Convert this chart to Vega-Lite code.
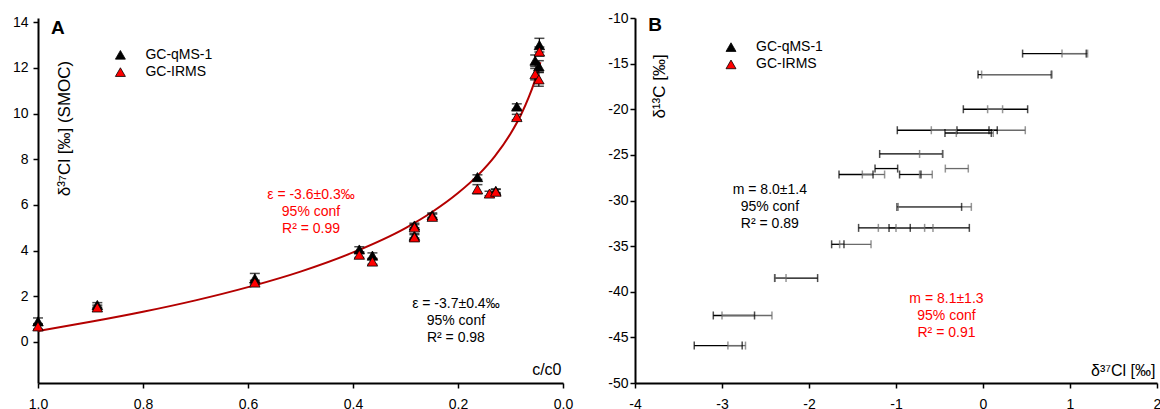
{
  "$schema": "https://vega.github.io/schema/vega-lite/v6.json",
  "padding": {"left": 12, "top": 11, "right": 0, "bottom": 0},
  "config": {
    "font": "Liberation Sans",
    "view": {"stroke": null},
    "axis": {"domainColor": "black", "domainWidth": 2, "tickColor": "black", "tickWidth": 1.5, "tickSize": 5, "labelFont": "Liberation Sans", "labelFontSize": 14, "labelColor": "black", "grid": false, "titleFont": "Liberation Sans", "titleFontWeight": "normal", "titleColor": "black", "labelFlush": false, "labelOverlap": false},
    "legend": {"labelFont": "Liberation Sans", "labelFontSize": 14, "labelColor": "black"}
  },
  "datasets": {
    "curveA": [
      {"c": 1.0, "d": 0.48}, {"c": 0.9, "d": 0.88}, {"c": 0.8, "d": 1.32}, {"c": 0.7, "d": 1.82},
      {"c": 0.6, "d": 2.4}, {"c": 0.5, "d": 3.08}, {"c": 0.4, "d": 3.92}, {"c": 0.3, "d": 4.99},
      {"c": 0.25, "d": 5.68}, {"c": 0.2, "d": 6.52}, {"c": 0.16, "d": 7.35}, {"c": 0.13, "d": 8.13},
      {"c": 0.1, "d": 9.12}, {"c": 0.08, "d": 9.95}, {"c": 0.065, "d": 10.73}, {"c": 0.055, "d": 11.35},
      {"c": 0.045, "d": 12.1}, {"c": 0.043, "d": 12.25}
    ],
    "ptsA": [
      {"series": "GC-qMS-1", "c": 1.0, "d": 0.9, "lo": 0.75, "hi": 1.05},
      {"series": "GC-qMS-1", "c": 0.887, "d": 1.62, "lo": 1.52, "hi": 1.72},
      {"series": "GC-qMS-1", "c": 0.587, "d": 2.78, "lo": 2.56, "hi": 3.0},
      {"series": "GC-qMS-1", "c": 0.388, "d": 4.05, "lo": 3.93, "hi": 4.17},
      {"series": "GC-qMS-1", "c": 0.363, "d": 3.78, "lo": 3.66, "hi": 3.9},
      {"series": "GC-qMS-1", "c": 0.283, "d": 5.1, "lo": 5.0, "hi": 5.2},
      {"series": "GC-qMS-1", "c": 0.283, "d": 4.65, "lo": 4.55, "hi": 4.75},
      {"series": "GC-qMS-1", "c": 0.249, "d": 5.55, "lo": 5.45, "hi": 5.65},
      {"series": "GC-qMS-1", "c": 0.163, "d": 7.22, "lo": 7.12, "hi": 7.32},
      {"series": "GC-qMS-1", "c": 0.128, "d": 6.62, "lo": 6.54, "hi": 6.7},
      {"series": "GC-qMS-1", "c": 0.088, "d": 10.31, "lo": 10.19, "hi": 10.43},
      {"series": "GC-qMS-1", "c": 0.045, "d": 13.0, "lo": 12.7, "hi": 13.3},
      {"series": "GC-qMS-1", "c": 0.053, "d": 12.32, "lo": 12.07, "hi": 12.57},
      {"series": "GC-qMS-1", "c": 0.046, "d": 12.07, "lo": 11.82, "hi": 12.32},
      {"series": "GC-IRMS", "c": 1.0, "d": 0.68, "lo": 0.56, "hi": 0.8},
      {"series": "GC-IRMS", "c": 0.887, "d": 1.51, "lo": 1.41, "hi": 1.61},
      {"series": "GC-IRMS", "c": 0.587, "d": 2.6, "lo": 2.5, "hi": 2.7},
      {"series": "GC-IRMS", "c": 0.388, "d": 3.82, "lo": 3.7, "hi": 3.94},
      {"series": "GC-IRMS", "c": 0.363, "d": 3.52, "lo": 3.4, "hi": 3.64},
      {"series": "GC-IRMS", "c": 0.283, "d": 5.02, "lo": 4.9, "hi": 5.14},
      {"series": "GC-IRMS", "c": 0.283, "d": 4.58, "lo": 4.46, "hi": 4.7},
      {"series": "GC-IRMS", "c": 0.249, "d": 5.48, "lo": 5.36, "hi": 5.6},
      {"series": "GC-IRMS", "c": 0.163, "d": 6.69, "lo": 6.49, "hi": 6.89},
      {"series": "GC-IRMS", "c": 0.14, "d": 6.5, "lo": 6.4, "hi": 6.6},
      {"series": "GC-IRMS", "c": 0.128, "d": 6.58, "lo": 6.48, "hi": 6.68},
      {"series": "GC-IRMS", "c": 0.088, "d": 9.85, "lo": 9.73, "hi": 9.97},
      {"series": "GC-IRMS", "c": 0.045, "d": 12.72, "lo": 12.52, "hi": 12.92},
      {"series": "GC-IRMS", "c": 0.053, "d": 11.73, "lo": 11.48, "hi": 11.98},
      {"series": "GC-IRMS", "c": 0.046, "d": 11.5, "lo": 11.2, "hi": 11.8}
    ],
    "ptsB": [
      {"series": "GC-qMS-1", "y": -13.9, "lo": 0.455, "hi": 1.187},
      {"series": "GC-IRMS", "y": -13.9, "lo": 0.908, "hi": 1.202},
      {"series": "GC-qMS-1", "y": -16.2, "lo": -0.057, "hi": 0.785},
      {"series": "GC-IRMS", "y": -16.2, "lo": -0.016, "hi": 0.793},
      {"series": "GC-qMS-1", "y": -20.0, "lo": -0.226, "hi": 0.513},
      {"series": "GC-IRMS", "y": -20.0, "lo": 0.053, "hi": 0.225},
      {"series": "GC-qMS-1", "y": -22.3, "lo": -0.985, "hi": 0.069},
      {"series": "GC-IRMS", "y": -22.3, "lo": -0.594, "hi": 0.486},
      {"series": "GC-qMS-1", "y": -22.3, "lo": -0.299, "hi": 0.164},
      {"series": "GC-qMS-1", "y": -22.6, "lo": -0.437, "hi": 0.095},
      {"series": "GC-IRMS", "y": -22.6, "lo": -0.307, "hi": 0.118},
      {"series": "GC-qMS-1", "y": -24.9, "lo": -1.188, "hi": -0.464},
      {"series": "GC-IRMS", "y": -24.9, "lo": -0.729, "hi": -0.464},
      {"series": "GC-qMS-1", "y": -26.5, "lo": -1.241, "hi": -0.981},
      {"series": "GC-IRMS", "y": -26.5, "lo": -0.433, "hi": -0.169},
      {"series": "GC-qMS-1", "y": -27.15, "lo": -1.655, "hi": -1.264},
      {"series": "GC-IRMS", "y": -27.15, "lo": -1.387, "hi": -1.131},
      {"series": "GC-qMS-1", "y": -27.15, "lo": -0.959, "hi": -0.713},
      {"series": "GC-IRMS", "y": -27.15, "lo": -0.729, "hi": -0.583},
      {"series": "GC-qMS-1", "y": -30.7, "lo": -0.989, "hi": -0.246},
      {"series": "GC-IRMS", "y": -30.7, "lo": -0.974, "hi": -0.134},
      {"series": "GC-qMS-1", "y": -33.0, "lo": -1.43, "hi": -0.836},
      {"series": "GC-IRMS", "y": -33.0, "lo": -1.203, "hi": -0.575},
      {"series": "GC-qMS-1", "y": -33.0, "lo": -1.08, "hi": -0.157},
      {"series": "GC-IRMS", "y": -33.0, "lo": -1.0, "hi": -0.671},
      {"series": "GC-qMS-1", "y": -34.8, "lo": -1.74, "hi": -1.598},
      {"series": "GC-IRMS", "y": -34.8, "lo": -1.648, "hi": -1.287},
      {"series": "GC-qMS-1", "y": -38.5, "lo": -2.395, "hi": -1.901},
      {"series": "GC-IRMS", "y": -38.5, "lo": -2.39, "hi": -2.264},
      {"series": "GC-qMS-1", "y": -42.6, "lo": -3.1, "hi": -2.626},
      {"series": "GC-IRMS", "y": -42.6, "lo": -3.0, "hi": -2.426},
      {"series": "GC-qMS-1", "y": -45.9, "lo": -3.319, "hi": -2.768},
      {"series": "GC-IRMS", "y": -45.9, "lo": -2.932, "hi": -2.73}
    ]
  },
  "spacing": 34,
  "resolve": {"scale": {"color": "independent", "fill": "independent"}, "legend": {"color": "independent", "fill": "independent"}},
  "hconcat": [
    {
      "width": 525,
      "height": 365,
      "layer": [
        {
          "data": {"name": "curveA"},
          "mark": {"type": "line", "color": "#b40000", "strokeWidth": 2, "interpolate": "monotone"},
          "encoding": {
            "x": {"field": "c", "type": "quantitative", "scale": {"domain": [0, 1], "reverse": true},
              "axis": {"values": [0, 0.2, 0.4, 0.6, 0.8, 1], "format": ".1f", "labelPadding": 9, "title": "c/c0", "titleFontSize": 16, "titleX": 523, "titleY": -8.7, "titleAlign": "right", "titleBaseline": "alphabetic", "titleAngle": 0}},
            "y": {"field": "d", "type": "quantitative", "scale": {"domain": [-1.8, 14.19], "nice": false},
              "axis": {"values": [0, 2, 4, 6, 8, 10, 12, 14], "labelPadding": 5, "title": "δ³⁷Cl [‰] (SMOC)", "titleFontSize": 17, "titleX": 31, "titleY": 110, "titleAngle": -90, "titleAlign": "center", "titleBaseline": "alphabetic"}}
          }
        },
        {
          "data": {"name": "ptsA"},
          "mark": {"type": "rule", "color": "black", "strokeWidth": 1.2},
          "encoding": {
            "x": {"field": "c", "type": "quantitative"},
            "y": {"field": "lo", "type": "quantitative"},
            "y2": {"field": "hi"}
          }
        },
        {
          "data": {"name": "ptsA"},
          "mark": {"type": "tick", "orient": "horizontal", "color": "black", "size": 10, "thickness": 1.5},
          "encoding": {
            "x": {"field": "c", "type": "quantitative"},
            "y": {"field": "lo", "type": "quantitative"}
          }
        },
        {
          "data": {"name": "ptsA"},
          "mark": {"type": "tick", "orient": "horizontal", "color": "black", "size": 10, "thickness": 1.5},
          "encoding": {
            "x": {"field": "c", "type": "quantitative"},
            "y": {"field": "hi", "type": "quantitative"}
          }
        },
        {
          "data": {"name": "ptsA"},
          "mark": {"type": "point", "shape": "triangle-up", "filled": true, "stroke": "black", "strokeWidth": 0.8, "size": 110, "opacity": 1},
          "encoding": {
            "x": {"field": "c", "type": "quantitative"},
            "y": {"field": "d", "type": "quantitative"},
            "color": {"field": "series", "type": "nominal", "sort": null,
              "scale": {"domain": ["GC-qMS-1", "GC-IRMS"], "range": ["black", "red"]},
              "legend": {"orient": "none", "legendX": 75.4, "legendY": 29.8, "title": null, "symbolType": "triangle-up", "symbolSize": 100, "symbolStrokeColor": "black", "symbolStrokeWidth": 0.8, "symbolOpacity": 1, "labelOffset": 18, "rowPadding": 3.3, "padding": 0}}
          }
        },
        {
          "data": {"values": [{"c": 0.48, "d": 6.44, "t": "ε = -3.6±0.3‰\n95% conf\nR² = 0.99"}]},
          "mark": {"type": "text", "color": "red", "fontSize": 14, "lineHeight": 17, "lineBreak": "\n", "align": "center", "baseline": "middle"},
          "encoding": {
            "x": {"field": "c", "type": "quantitative"},
            "y": {"field": "d", "type": "quantitative"},
            "text": {"field": "t"}
          }
        },
        {
          "data": {"values": [{"c": 0.204, "d": 1.64, "t": "ε = -3.7±0.4‰\n95% conf\nR² = 0.98"}]},
          "mark": {"type": "text", "color": "black", "fontSize": 14, "lineHeight": 17, "lineBreak": "\n", "align": "center", "baseline": "middle"},
          "encoding": {
            "x": {"field": "c", "type": "quantitative"},
            "y": {"field": "d", "type": "quantitative"},
            "text": {"field": "t"}
          }
        },
        {
          "data": {"values": [{"c": 0.962, "d": 13.75, "t": "A"}]},
          "mark": {"type": "text", "color": "black", "fontSize": 19, "fontWeight": "bold", "align": "center", "baseline": "middle"},
          "encoding": {
            "x": {"field": "c", "type": "quantitative"},
            "y": {"field": "d", "type": "quantitative"},
            "text": {"field": "t"}
          }
        }
      ]
    },
    {
      "width": 522,
      "height": 365,
      "layer": [
        {
          "data": {"name": "ptsB"},
          "mark": {"type": "rule", "strokeWidth": 1.3},
          "encoding": {
            "x": {"field": "lo", "type": "quantitative", "scale": {"domain": [-4, 2], "nice": false},
              "axis": {"values": [-4, -3, -2, -1, 0, 1, 2], "labelExpr": "toString(datum.value)", "labelPadding": 9, "title": "δ³⁷Cl [‰]", "titleFontSize": 16, "titleX": 520, "titleY": -8, "titleAlign": "right", "titleBaseline": "alphabetic", "titleAngle": 0}},
            "x2": {"field": "hi"},
            "y": {"field": "y", "type": "quantitative", "scale": {"domain": [-50, -10], "nice": false},
              "axis": {"values": [-50, -45, -40, -35, -30, -25, -20, -15, -10], "labelExpr": "toString(datum.value)", "labelPadding": 2, "title": "δ¹³C [‰]", "titleFontSize": 17, "titleX": 29, "titleY": 68, "titleAngle": -90, "titleAlign": "center", "titleBaseline": "alphabetic"}},
            "color": {"condition": {"test": "datum.series === 'GC-IRMS'", "value": "#6a6a6a"}, "value": "black"}
          }
        },
        {
          "data": {"name": "ptsB"},
          "mark": {"type": "tick", "orient": "vertical", "size": 8, "thickness": 1.5},
          "encoding": {
            "x": {"field": "lo", "type": "quantitative"},
            "y": {"field": "y", "type": "quantitative"},
            "color": {"condition": {"test": "datum.series === 'GC-IRMS'", "value": "#6a6a6a"}, "value": "black"}
          }
        },
        {
          "data": {"name": "ptsB"},
          "mark": {"type": "tick", "orient": "vertical", "size": 8, "thickness": 1.5},
          "encoding": {
            "x": {"field": "hi", "type": "quantitative"},
            "y": {"field": "y", "type": "quantitative"},
            "color": {"condition": {"test": "datum.series === 'GC-IRMS'", "value": "#6a6a6a"}, "value": "black"}
          }
        },
        {
          "data": {"name": "ptsB"},
          "mark": {"type": "point", "shape": "triangle-up", "filled": true, "stroke": "black", "strokeWidth": 0.8, "size": 110, "opacity": 0},
          "encoding": {
            "x": {"field": "lo", "type": "quantitative"},
            "y": {"field": "y", "type": "quantitative"},
            "fill": {"field": "series", "type": "nominal", "sort": null,
              "scale": {"domain": ["GC-qMS-1", "GC-IRMS"], "range": ["black", "red"]},
              "legend": {"orient": "none", "legendX": 89, "legendY": 22.1, "title": null, "symbolType": "triangle-up", "symbolSize": 100, "symbolStrokeColor": "black", "symbolStrokeWidth": 0.8, "symbolOpacity": 1, "labelOffset": 18, "rowPadding": 3.3, "padding": 0}}
          }
        },
        {
          "data": {"values": [{"x": -2.45, "y": -28.81, "t": "m = 8.0±1.4\n95% conf\nR² = 0.89"}]},
          "mark": {"type": "text", "color": "black", "fontSize": 14, "lineHeight": 17, "lineBreak": "\n", "align": "center", "baseline": "middle"},
          "encoding": {
            "x": {"field": "x", "type": "quantitative"},
            "y": {"field": "y", "type": "quantitative"},
            "text": {"field": "t"}
          }
        },
        {
          "data": {"values": [{"x": -0.42, "y": -40.81, "t": "m = 8.1±1.3\n95% conf\nR² = 0.91"}]},
          "mark": {"type": "text", "color": "red", "fontSize": 14, "lineHeight": 17, "lineBreak": "\n", "align": "center", "baseline": "middle"},
          "encoding": {
            "x": {"field": "x", "type": "quantitative"},
            "y": {"field": "y", "type": "quantitative"},
            "text": {"field": "t"}
          }
        },
        {
          "data": {"values": [{"x": -3.77, "y": -10.74, "t": "B"}]},
          "mark": {"type": "text", "color": "black", "fontSize": 19, "fontWeight": "bold", "align": "center", "baseline": "middle"},
          "encoding": {
            "x": {"field": "x", "type": "quantitative"},
            "y": {"field": "y", "type": "quantitative"},
            "text": {"field": "t"}
          }
        }
      ]
    }
  ]
}
